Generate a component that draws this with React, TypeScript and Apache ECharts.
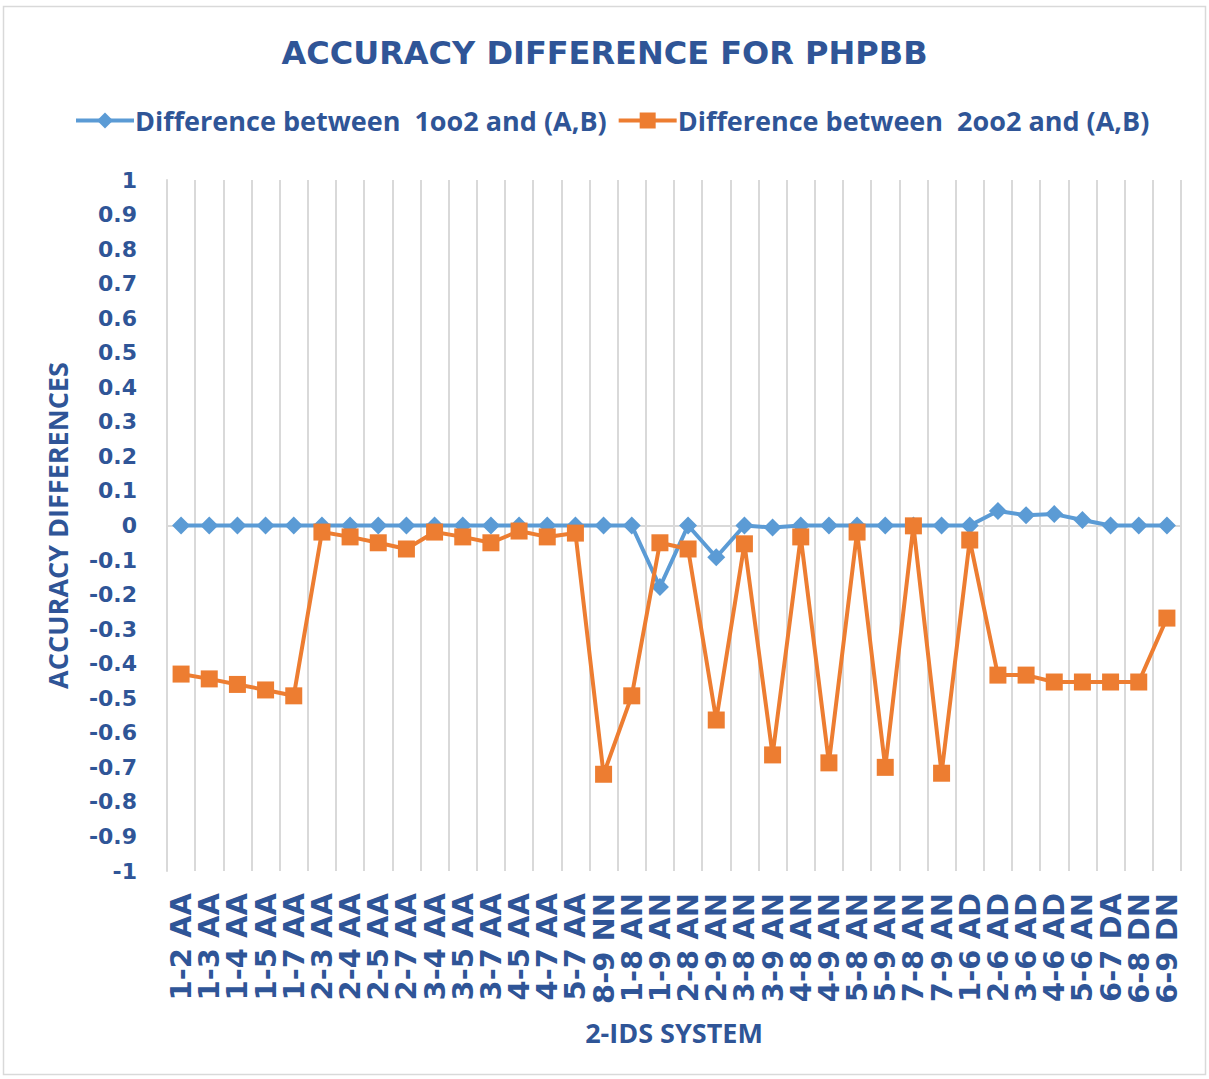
import React, { useEffect, useRef } from "react";
import * as echarts from "echarts";

const categories = [
  "1-2 AA", "1-3 AA", "1-4 AA", "1-5 AA", "1-7 AA", "2-3 AA", "2-4 AA", "2-5 AA", "2-7 AA",
  "3-4 AA", "3-5 AA", "3-7 AA", "4-5 AA", "4-7 AA", "5-7 AA", "8-9 NN", "1-8 AN", "1-9 AN",
  "2-8 AN", "2-9 AN", "3-8 AN", "3-9 AN", "4-8 AN", "4-9 AN", "5-8 AN", "5-9 AN", "7-8 AN",
  "7-9 AN", "1-6 AD", "2-6 AD", "3-6 AD", "4-6 AD", "5-6 AN", "6-7 DA", "6-8 DN", "6-9 DN",
];

const diff1oo2 = [
  0, 0, 0, 0, 0, 0, 0, 0, 0,
  0, 0, 0, 0, 0, 0, 0, 0, -0.178,
  0, -0.092, 0, -0.006, 0, 0, 0, 0, 0,
  0, 0, 0.042, 0.03, 0.033, 0.016, 0, 0, 0,
];

const diff2oo2 = [
  -0.43, -0.444, -0.46, -0.476, -0.493, -0.019, -0.033, -0.05, -0.068,
  -0.019, -0.033, -0.05, -0.016, -0.033, -0.022, -0.72, -0.493, -0.05,
  -0.068, -0.563, -0.053, -0.664, -0.033, -0.687, -0.019, -0.7, -0.001,
  -0.717, -0.042, -0.433, -0.433, -0.453, -0.453, -0.453, -0.453, -0.268,
];

const seriesNames = [
  "Difference between  1oo2 and (A,B)",
  "Difference between  2oo2 and (A,B)",
];

const TEXT = "#2F5597";
const GRID = "#D9D9D9";

export default function App() {
  const ref = useRef<HTMLDivElement>(null);
  useEffect(() => {
    if (!ref.current) return;
    const chart = echarts.init(ref.current, undefined, { renderer: "svg" });
    chart.setOption({
      animation: false,
      backgroundColor: "#FFFFFF",
      title: {
        text: "ACCURACY DIFFERENCE FOR PHPBB",
        left: "center",
        top: 32,
        textStyle: {
          fontFamily: "DejaVu Sans",
          fontWeight: "bold",
          fontSize: 32,
          color: TEXT,
        },
      },
      legend: {
        top: 102,
        left: 69,
        itemWidth: 58,
        itemHeight: 20,
        itemGap: 10,
        lineStyle: { width: 4 },
        textStyle: {
          fontFamily: "Open Sans",
          fontWeight: "bold",
          fontSize: 27,
          color: TEXT,
          padding: [0, 0, 0, -4],
        },
        data: seriesNames.map((n) => ({ name: n, lineStyle: { width: 4 } })),
      },
      grid: { left: 167, right: 28, top: 180, bottom: 208, containLabel: false },
      xAxis: {
        type: "category",
        data: categories,
        boundaryGap: true,
        name: "2-IDS SYSTEM",
        nameLocation: "middle",
        nameGap: 148,
        nameTextStyle: {
          fontFamily: "Open Sans",
          fontWeight: "bold",
          fontSize: 27,
          color: TEXT,
        },
        axisLine: { show: false },
        axisTick: { show: false },
        splitLine: { show: true, lineStyle: { color: GRID, width: 2 } },
        axisLabel: {
          rotate: 90,
          interval: 0,
          margin: 22,
          fontFamily: "DejaVu Sans",
          fontWeight: "bold",
          fontSize: 29,
          color: TEXT,
        },
      },
      yAxis: {
        type: "value",
        min: -1,
        max: 1,
        interval: 0.1,
        name: "ACCURACY DIFFERENCES",
        nameLocation: "middle",
        nameGap: 96,
        nameTextStyle: {
          fontFamily: "Open Sans",
          fontWeight: "bold",
          fontSize: 27,
          color: TEXT,
        },
        axisLine: { show: true, lineStyle: { color: GRID, width: 2 } },
        axisTick: { show: false },
        splitLine: { show: false },
        axisLabel: {
          margin: 30,
          fontFamily: "DejaVu Sans",
          fontWeight: "bold",
          fontSize: 22,
          color: TEXT,
          formatter: (v: number) => String(Math.round(v * 10) / 10),
        },
      },
      series: [
        {
          name: seriesNames[0],
          type: "line",
          data: diff1oo2,
          symbol: "diamond",
          symbolSize: 18,
          color: "#5B9BD5",
          lineStyle: { color: "#5B9BD5", width: 4 },
          itemStyle: { color: "#5B9BD5" },
          z: 3,
          markLine: {
            silent: true,
            symbol: "none",
            label: { show: false },
            lineStyle: { color: GRID, width: 2, type: "solid" },
            data: [{ yAxis: 0 }],
            z: 1,
          },
        },
        {
          name: seriesNames[1],
          type: "line",
          data: diff2oo2,
          symbol: "rect",
          symbolSize: 17,
          color: "#ED7D31",
          lineStyle: { color: "#ED7D31", width: 4 },
          itemStyle: { color: "#ED7D31" },
          z: 4,
        },
      ],
      graphic: [
        {
          type: "rect",
          shape: { x: 3.5, y: 6.5, width: 1202, height: 1068 },
          style: { fill: "none", stroke: GRID, lineWidth: 1.5 },
          silent: true,
          z: -10,
        },
      ],
    });
    return () => chart.dispose();
  }, []);
  return (
    <div
      ref={ref}
      style={{ position: "absolute", left: 0, top: 0, width: 1209, height: 1079 }}
    />
  );
}
